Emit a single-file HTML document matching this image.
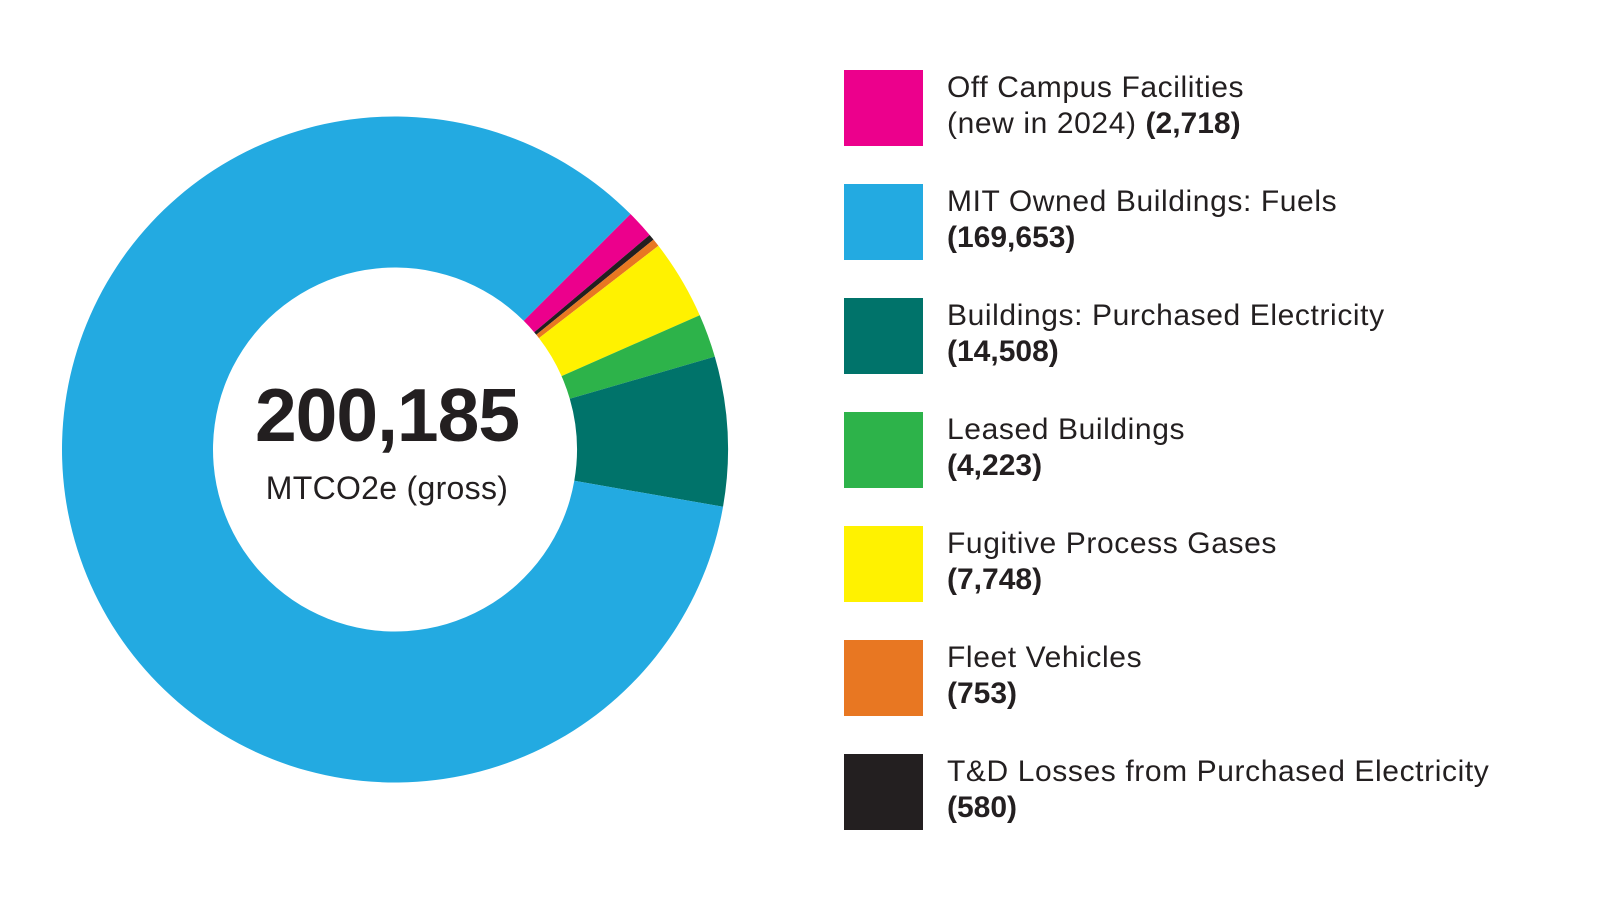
<!DOCTYPE html>
<html><head><meta charset="utf-8"><style>
html,body{margin:0;padding:0;background:#fff;}
body{width:1600px;height:916px;position:relative;overflow:hidden;font-family:"Liberation Sans",sans-serif;color:#231F20;}
.sw{position:absolute;left:844px;width:79px;height:76px;}
.lt{position:absolute;left:947px;font-size:30px;letter-spacing:0.6px;line-height:36px;white-space:nowrap;}
.lt b{font-weight:bold;letter-spacing:0;}
</style></head><body>
<svg id="d" width="1600" height="916" style="position:absolute;left:0;top:0"></svg>
<div style="position:absolute;left:195px;width:384px;top:372px;text-align:center;font-weight:bold;font-size:75px;letter-spacing:-1px;">200,185</div>
<div style="position:absolute;left:195px;width:384px;top:470px;text-align:center;font-size:32px;letter-spacing:0.3px;">MTCO2e (gross)</div>

<div class="sw" style="top:70px;background:#EC008C"></div>
<div class="lt" style="top:70px">Off Campus Facilities<br>(new in 2024) <b>(2,718)</b></div>
<div class="sw" style="top:184px;background:#23AAE1"></div>
<div class="lt" style="top:184px">MIT Owned Buildings: Fuels<br><b>(169,653)</b></div>
<div class="sw" style="top:298px;background:#00736A"></div>
<div class="lt" style="top:298px">Buildings: Purchased Electricity<br><b>(14,508)</b></div>
<div class="sw" style="top:412px;background:#2DB34A"></div>
<div class="lt" style="top:412px">Leased Buildings<br><b>(4,223)</b></div>
<div class="sw" style="top:526px;background:#FFF200"></div>
<div class="lt" style="top:526px">Fugitive Process Gases<br><b>(7,748)</b></div>
<div class="sw" style="top:640px;background:#E87722"></div>
<div class="lt" style="top:640px">Fleet Vehicles<br><b>(753)</b></div>
<div class="sw" style="top:754px;background:#231F20"></div>
<div class="lt" style="top:754px">T&amp;D Losses from Purchased Electricity<br><b>(580)</b></div>

<script>
var cx=395,cy=449.5,R=333,r=182;
var data=[[2718,"#EC008C"],[580,"#231F20"],[753,"#E87722"],[7748,"#FFF200"],[4223,"#2DB34A"],[14508,"#00736A"],[169653,"#23AAE1"]];
var tot=200185,a=-45*Math.PI/180,s="";
function p(rad,an){return (cx+rad*Math.cos(an)).toFixed(2)+","+(cy+rad*Math.sin(an)).toFixed(2);}
data.forEach(function(d){
 var b=a+d[0]/tot*2*Math.PI,lg=(b-a)>Math.PI?1:0;
 s+='<path fill="'+d[1]+'" d="M'+p(R,a)+' A'+R+','+R+' 0 '+lg+' 1 '+p(R,b)+' L'+p(r,b)+' A'+r+','+r+' 0 '+lg+' 0 '+p(r,a)+' Z"/>';
 a=b;
});
document.getElementById("d").innerHTML=s;
</script>
</body></html>
